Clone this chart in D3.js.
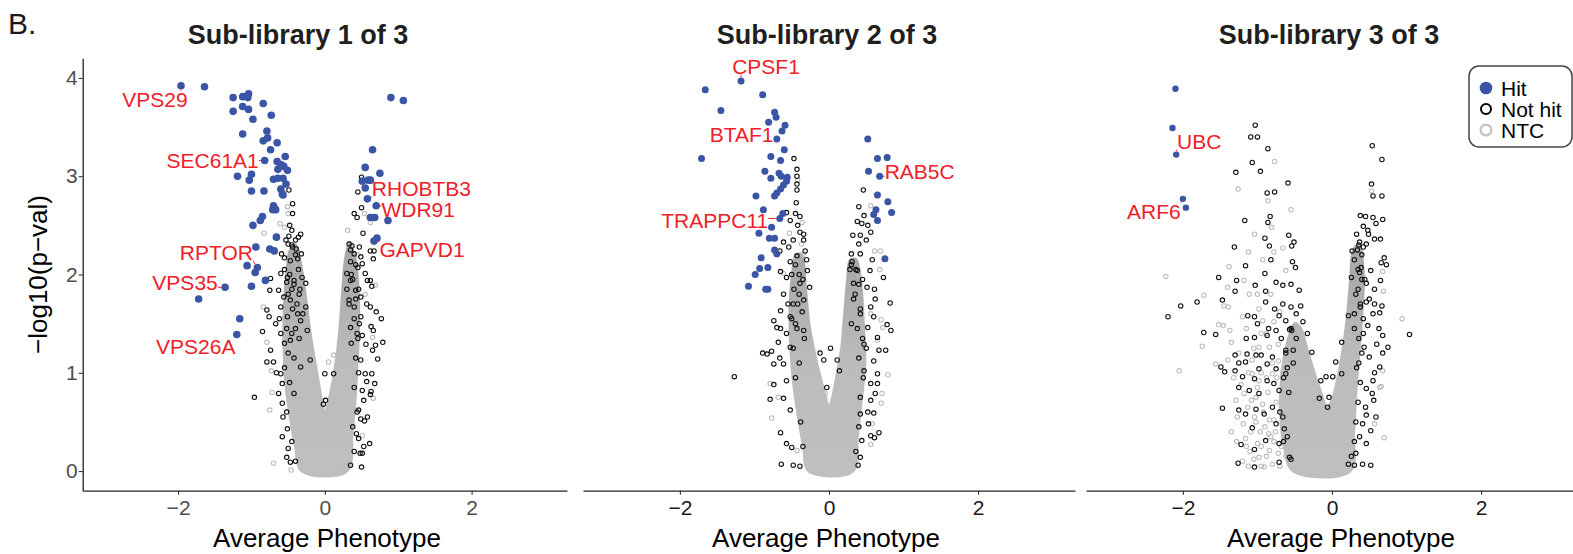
<!DOCTYPE html>
<html>
<head>
<meta charset="utf-8">
<script src="https://cdn.jsdelivr.net/npm/d3@7"></script>
<style>
  body { margin: 0; background: #fff; }
  svg { display: block; font-family: 'Liberation Sans', Arial, sans-serif; }
</style>
</head>
<body>
<svg id="chart" width="1573" height="554"></svg>
<script>
// ---- data ----
const titles = ['Sub-library 1 of 3', 'Sub-library 2 of 3', 'Sub-library 3 of 3']
const xTicks = [-2, 0, 2]
const yTicks = [0, 1, 2, 3, 4]
const legendItems = ['Hit', 'Not hit', 'NTC']

// hits: [average phenotype, -log10 p]
const hits1 = [[-1.96,3.92],[-1.64,3.91],[-1.25,3.80],[-1.12,3.81],[-1.04,3.84],[-1.05,3.80],[-0.84,3.74],
  [-1.25,3.66],[-1.12,3.71],[-1.04,3.68],[-0.73,3.62],[-0.98,3.58],[-1.12,3.43],[-0.79,3.46],[-0.84,3.36],
  [-0.78,3.39],[-0.65,3.34],[-0.74,3.27],[-0.82,3.16],[-0.54,3.20],[-0.65,3.15],[-0.64,3.07],[-0.56,3.10],
  [-0.51,3.06],[-0.60,3.12],[-1.19,3.00],[-1.00,3.02],[-1.03,2.96],[-0.70,2.97],[-0.64,2.98],[-0.57,2.98],
  [-0.53,2.92],[-1.00,2.85],[-0.83,2.85],[-0.60,2.87],[-0.58,2.82],[-0.57,2.81],[-0.70,2.70],[-0.71,2.66],
  [-0.67,2.66],[-0.85,2.59],[-0.88,2.55],[-0.98,2.50],[-0.66,2.38],[-0.94,2.28],[-0.75,2.26],[-0.69,2.24],
  [-1.06,2.09],[-0.92,2.07],[-0.95,2.02],[-0.81,1.94],[-1.00,1.88],[-1.36,1.87],[-1.72,1.75],[-1.16,1.55],
  [-1.20,1.39],
  [0.90,3.80],[1.07,3.77],[0.65,3.27],[0.55,3.09],[0.75,3.03],[0.51,2.95],[0.59,2.96],[0.62,2.96],
  [0.55,2.88],[0.58,2.77],[0.70,2.70],[0.62,2.58],[0.68,2.58],[0.86,2.55],[0.71,2.37],[0.67,2.34]]
const hits2 = [[-1.18,3.97],[-1.66,3.88],[-0.89,3.83],[-1.45,3.67],[-0.73,3.65],[-0.71,3.60],[-0.81,3.55],
  [-0.59,3.52],[-0.63,3.46],[-0.70,3.38],[-0.60,3.27],[-1.71,3.18],[-0.78,3.20],[-0.65,3.16],[-0.86,3.05],
  [-0.78,2.98],[-0.67,3.03],[-0.64,3.00],[-0.56,2.99],[-0.57,2.95],[-0.61,2.91],[-0.65,2.87],[-0.70,2.83],
  [-0.73,2.80],[-0.98,2.80],[-0.88,2.66],[-0.62,2.62],[-0.66,2.57],[-0.77,2.48],[-0.94,2.42],[-0.80,2.37],
  [-0.73,2.37],[-0.73,2.25],[-0.70,2.21],[-0.91,2.17],[-0.93,2.06],[-0.82,2.07],[-0.99,2.00],[-1.08,1.88],
  [-0.85,1.85],[-0.82,1.85],
  [0.52,3.38],[0.65,3.18],[0.78,3.19],[0.53,3.05],[0.68,3.00],[0.65,2.81],[0.79,2.74],[0.84,2.63],
  [0.63,2.66],[0.60,2.61],[0.65,2.55],[0.75,2.16]]
const hits3 = [[-2.10,3.89],[-2.14,3.49],[-2.09,3.22],[-2.00,2.77],[-1.96,2.68]]

const notHit1 = [[-0.49,2.86],[-0.44,2.72],[-0.44,2.62],[-0.48,2.50],[-0.33,2.41],[-0.36,2.38],[-0.49,2.39],
  [-0.53,2.35],[-0.40,2.35],[-0.50,2.31],[-0.44,2.28],[-0.39,2.26],[-0.59,2.21],[-0.55,2.17],[-0.47,2.14],
  [-0.37,2.16],[-0.32,2.21],[-0.74,1.96],[-0.75,1.84],[-0.60,2.01],[-0.51,1.97],[-0.42,1.94],[-0.31,1.97],
  [-0.26,1.91],[-0.63,1.84],[-0.56,1.77],[-0.47,1.74],[-0.38,1.70],[-0.26,1.67],[-0.60,1.67],[-0.79,1.64],
  [-0.76,1.57],[-0.85,1.42],[-0.67,1.50],[-0.51,1.57],[-0.33,1.53],[-0.24,1.43],[-0.60,1.40],[-0.47,1.33],
  [-0.74,1.23],[-0.79,1.11],[-0.70,1.11],[-0.60,0.99],[-0.58,0.89],[-0.63,0.79],[-0.58,0.69],[-0.57,0.55],
  [-0.58,0.35],[-0.51,0.43],[-0.50,0.23],[-0.52,0.14],[-0.47,0.09],[-0.96,0.75],[-0.42,0.79],[-0.33,1.06],
  [-0.20,1.13],[-0.55,2.05],[-0.45,1.85],[-0.35,1.80],[-0.62,1.55],[-0.40,1.45],[-0.55,1.30],[-0.66,1.00],
  [-0.45,2.45],[-0.52,1.92],[-0.30,1.60],
  [-0.45,2.30],[-0.40,2.20],[-0.36,2.05],[-0.48,2.00],[-0.42,1.90],[-0.34,1.85],[-0.50,1.80],[-0.44,1.65],
  [-0.37,1.60],[-0.52,1.45],[-0.45,1.40],[-0.35,1.35],[-0.50,1.20],[-0.42,1.15],[-0.55,1.05],[-0.48,0.90],
  [-0.52,0.60],[-0.45,0.30],[-0.40,0.10],
  [0.50,2.99],[0.45,2.84],[0.50,2.68],[0.40,2.62],[0.44,2.58],[0.52,2.42],[0.62,2.24],[0.67,2.24],
  [0.66,2.16],[0.33,2.31],[0.37,2.29],[0.47,2.28],[0.40,2.21],[0.49,2.18],[0.35,2.13],[0.45,2.07],
  [0.51,2.11],[0.30,2.01],[0.55,2.01],[0.58,1.94],[0.62,1.94],[0.64,1.88],[0.35,1.94],[0.42,1.84],
  [0.49,1.77],[0.57,1.70],[0.33,1.74],[0.40,1.67],[0.62,1.67],[0.70,1.62],[0.77,1.55],[0.49,1.57],
  [0.63,1.47],[0.35,1.46],[0.44,1.40],[0.51,1.38],[0.66,1.43],[0.79,1.31],[0.56,1.29],[0.69,1.28],
  [0.65,1.23],[0.72,1.14],[0.49,1.13],[0.55,0.99],[0.64,0.99],[0.68,0.89],[0.57,0.91],[0.51,0.82],
  [0.63,0.81],[0.62,0.78],[0.53,0.72],[0.46,0.62],[0.49,0.53],[0.58,0.55],[0.54,0.51],[0.43,0.38],
  [0.46,0.33],[0.53,0.25],[0.61,0.28],[0.48,0.18],[0.51,0.18],[0.50,0.04],[0.35,0.06],[0.12,0.99],
  [0.00,0.99],[0.01,0.72],[-0.02,0.68],[0.36,2.00],[0.42,1.75],[0.30,1.85],[0.47,1.50],
  [0.35,2.25],[0.42,2.10],[0.38,1.95],[0.46,1.85],[0.33,1.70],[0.40,1.55],[0.45,1.35],[0.36,1.30],
  [0.42,1.15],[0.46,1.00],[0.40,0.85],[0.44,0.60],[0.38,0.45],[0.40,0.20]]
const ntc1 = [[-0.51,2.69],[-0.50,2.62],[-0.61,2.52],[-0.83,2.42],[-0.55,2.48],[-0.38,2.04],[-0.84,1.67],
  [-0.79,1.31],[-0.73,1.02],[-0.72,0.80],[-0.75,0.62],[-0.70,0.08],[-0.46,0.01],[0.62,2.53],[0.54,2.62],
  [0.69,1.89],[0.65,1.36],[0.66,0.74],[0.05,1.11],[0.12,1.18],[0.31,2.45],[0.35,2.31],[0.51,0.36],
  [0.28,0.01],[-0.42,2.10],[-0.30,1.75],[0.45,2.20],[0.55,1.80]]

const notHit2 = [[-0.47,3.18],[-0.43,3.07],[-0.43,3.00],[-0.43,2.92],[-0.43,2.86],[-0.44,2.73],[-0.57,2.63],
  [-0.45,2.62],[-0.39,2.59],[-0.52,2.55],[-0.42,2.50],[-0.34,2.41],[-0.39,2.43],[-0.48,2.35],[-0.34,2.35],
  [-0.61,2.33],[-0.54,2.28],[-0.32,2.24],[-0.66,2.24],[-0.43,2.19],[-0.52,2.13],[-0.29,2.04],[-0.65,2.03],
  [-0.57,1.97],[-0.39,1.91],[-0.26,1.87],[-0.61,1.80],[-0.48,1.70],[-0.34,1.74],[-0.65,1.63],[-0.52,1.57],
  [-0.74,1.53],[-0.70,1.46],[-0.65,1.45],[-0.34,1.43],[-0.57,1.40],[-0.68,1.31],[-0.52,1.26],[-0.89,1.20],
  [-0.83,1.19],[-0.77,1.22],[-0.66,1.15],[-0.61,1.09],[-0.74,1.09],[-1.27,0.96],[-0.74,0.88],[-0.57,0.92],
  [-0.79,0.73],[-0.61,0.74],[-0.52,0.62],[-0.65,0.39],[-0.57,0.28],[-0.50,0.24],[-0.64,0.07],[-0.48,0.06],
  [-0.39,0.05],[-0.12,1.20],[-0.07,1.13],[0.02,1.25],[-0.03,0.85],[-0.50,2.00],[-0.40,1.80],[-0.30,2.15],
  [-0.55,1.70],[-0.45,1.50],
  [-0.45,2.10],[-0.40,2.00],[-0.35,1.95],[-0.47,1.85],[-0.42,1.70],[-0.36,1.62],[-0.50,1.55],[-0.43,1.45],
  [-0.33,1.35],[-0.48,1.25],[-0.40,1.10],[-0.45,0.95],[-0.38,0.50],[-0.35,0.25],
  [0.46,2.86],[0.40,2.69],[0.38,2.54],[0.47,2.60],[0.44,2.52],[0.52,2.50],[0.32,2.40],[0.42,2.40],
  [0.56,2.43],[0.50,2.35],[0.40,2.31],[0.30,2.21],[0.42,2.21],[0.58,2.15],[0.31,2.13],[0.55,2.04],
  [0.73,1.97],[0.38,2.04],[0.61,1.85],[0.51,1.87],[0.33,1.91],[0.82,1.71],[0.62,1.75],[0.56,1.67],
  [0.42,1.60],[0.60,1.57],[0.78,1.49],[0.83,1.43],[0.52,1.46],[0.65,1.36],[0.47,1.29],[0.67,1.23],
  [0.76,1.23],[0.60,1.12],[0.47,1.02],[0.65,0.99],[0.56,0.89],[0.65,0.89],[0.62,0.79],[0.56,0.72],
  [0.52,0.60],[0.60,0.59],[0.42,0.58],[0.53,0.48],[0.56,0.36],[0.61,0.34],[0.67,0.39],[0.44,0.31],
  [0.42,0.14],[0.39,0.06],[0.11,1.13],[0.14,1.02],[0.35,1.80],[0.45,1.95],[0.28,2.05],[0.50,1.25],
  [0.30,2.10],[0.36,2.05],[0.40,1.90],[0.33,1.75],[0.42,1.65],[0.38,1.45],[0.45,1.35],[0.30,1.50],
  [0.40,1.15],[0.46,0.95],[0.42,0.75],[0.40,0.45],[0.36,0.20]]
const ntc2 = [[-0.42,2.96],[-0.36,2.53],[-0.53,2.42],[-0.45,2.14],[-0.37,2.31],[-0.61,2.01],[-0.77,0.54],
  [-0.79,0.89],[-0.68,0.75],[-0.43,0.21],[0.56,2.70],[0.61,2.24],[0.69,2.24],[0.68,2.05],[0.70,1.54],
  [0.72,1.46],[0.79,0.98],[0.71,0.79],[0.70,0.69],[0.58,0.48],[0.56,0.27],[0.65,1.33],[0.56,1.60],
  [-0.05,0.79],[-0.35,2.20],[0.40,2.00]]

const notHit3 = [[-1.03,3.52],[-1.09,3.40],[-1.00,3.40],[-0.86,3.28],[-1.07,3.14],[-1.29,3.04],[-0.96,3.05],
  [-0.59,2.93],[-0.87,2.83],[-0.77,2.84],[-1.17,2.55],[-0.83,2.59],[-0.86,2.53],[-0.58,2.40],[-0.90,2.37],
  [-0.84,2.29],[-0.51,2.33],[-0.54,2.29],[-1.31,2.28],[-0.82,2.15],[-1.16,2.09],[-0.90,2.01],[-0.53,2.13],
  [-0.49,2.07],[-1.52,1.97],[-1.28,1.94],[-1.03,1.89],[-0.75,1.92],[-0.66,1.89],[-0.44,1.84],[-0.89,1.83],
  [-1.30,1.83],[-1.47,1.74],[-1.81,1.72],[-2.03,1.68],[-2.20,1.57],[-0.89,1.72],[-0.77,1.65],[-0.66,1.70],
  [-0.55,1.67],[-0.42,1.68],[-1.13,1.58],[-1.04,1.57],[-0.71,1.58],[-0.62,1.53],[-1.72,1.41],[-1.56,1.39],
  [-1.00,1.50],[-0.85,1.45],[-0.75,1.43],[-0.57,1.44],[-0.39,1.52],[-1.15,1.35],[-1.04,1.36],[-0.87,1.38],
  [-0.68,1.35],[-0.54,1.43],[-0.33,1.40],[-1.30,1.18],[-1.14,1.19],[-1.02,1.18],[-0.95,1.18],[-0.80,1.16],
  [-0.62,1.23],[-0.52,1.23],[-0.27,1.21],[-1.49,1.06],[-1.44,1.01],[-1.30,1.02],[-1.25,1.10],[-1.16,1.11],
  [-0.98,1.04],[-0.87,1.09],[-0.75,1.04],[-0.62,0.99],[-1.20,0.96],[-1.04,0.94],[-0.87,0.92],[-0.78,0.89],
  [-1.25,0.85],[-1.11,0.82],[-0.98,0.79],[-0.71,0.82],[-1.47,0.64],[-1.25,0.62],[-1.16,0.58],[-1.02,0.63],
  [-0.91,0.58],[-0.80,0.65],[-1.07,0.44],[-0.75,0.48],[-0.64,0.43],[-1.22,0.27],[-1.04,0.22],[-0.89,0.31],
  [-0.71,0.28],[-1.26,0.08],[-1.04,0.04],[-0.71,0.09],[-0.57,0.14],[-0.15,0.92],[-0.08,0.96],[0.01,0.96],
  [0.05,1.11],[0.13,1.31],[-0.17,0.74],[-0.04,0.75],[-0.06,0.65],[-0.60,1.05],[-0.70,0.60],[-0.65,0.30],
  [-0.55,1.90],[-0.48,1.60],
  [-0.55,1.45],[-0.48,1.35],[-0.62,1.20],[-0.52,1.10],[-0.65,0.95],[-0.58,0.80],[-0.66,0.55],[-0.60,0.35],
  [-0.55,0.12],
  [0.54,3.31],[0.67,3.17],[0.53,2.92],[0.55,2.80],[0.67,2.80],[0.68,2.56],[0.38,2.60],[0.45,2.59],
  [0.55,2.58],[0.59,2.52],[0.42,2.49],[0.33,2.41],[0.49,2.41],[0.57,2.36],[0.65,2.36],[0.37,2.33],
  [0.46,2.31],[0.27,2.24],[0.34,2.25],[0.70,2.17],[0.73,2.10],[0.66,2.12],[0.39,2.07],[0.52,2.04],
  [0.37,2.02],[0.26,1.97],[0.65,1.94],[0.46,1.91],[0.57,1.85],[0.46,1.72],[0.57,1.70],[0.67,1.68],
  [0.38,1.67],[0.22,1.58],[0.55,1.60],[0.64,1.61],[0.48,1.48],[0.63,1.45],[1.04,1.39],[0.68,1.38],
  [0.75,1.26],[0.60,1.29],[0.68,1.20],[0.43,1.26],[0.50,1.16],[0.64,1.06],[0.57,1.00],[0.55,0.92],
  [0.46,0.84],[0.54,0.79],[0.56,0.72],[0.45,0.65],[0.59,0.55],[0.46,0.57],[0.41,0.48],[0.52,0.41],
  [0.37,0.35],[0.46,0.28],[0.32,0.18],[0.41,0.07],[0.52,0.06],[0.30,0.06],[0.22,0.07],[0.13,0.99],
  [0.40,2.20],[0.44,1.95],[0.35,1.85],[0.50,1.75],[0.30,1.60],[0.42,1.40],[0.36,1.10],[0.48,2.45],
  [0.30,2.15],[0.35,2.05],[0.40,1.95],[0.32,1.80],[0.38,1.70],[0.42,1.55],[0.30,1.45],[0.36,1.35],
  [0.40,1.20],[0.33,1.05],[0.38,0.90],[0.35,0.70],[0.32,0.50],[0.30,0.30],[0.26,0.15],[0.36,2.30],
  [0.42,2.28]]
const ntc3 = [[-0.77,3.15],[-1.26,2.87],[-0.86,2.75],[-0.55,2.66],[-1.04,2.41],[-0.81,2.48],[-1.12,2.23],
  [-0.78,2.23],[-2.23,1.98],[-1.38,2.08],[-0.93,2.15],[-0.62,2.04],[-0.66,2.27],[-1.72,1.79],[-1.40,1.87],
  [-1.45,1.68],[-1.39,1.67],[-1.18,1.94],[-1.11,1.80],[-1.00,1.80],[-1.74,1.27],[-1.52,1.49],[-1.46,1.48],
  [-1.37,1.43],[-1.35,1.31],[-1.20,1.57],[-0.93,1.53],[-0.78,1.52],[-2.05,1.02],[-1.56,1.09],[-1.40,1.13],
  [-1.07,1.13],[-0.98,1.26],[-0.84,1.26],[-0.72,1.29],[-1.29,0.72],[-1.18,0.79],[-1.27,0.55],[-1.19,0.48],
  [-1.04,0.55],[-0.93,0.68],[-0.84,0.52],[-1.16,0.33],[-1.09,0.40],[-0.96,0.40],[-0.82,0.35],[-0.98,0.14],
  [-0.84,0.21],[-0.91,0.04],[-0.80,0.07],[-0.98,0.92],[-0.80,0.99],[-1.07,0.99],[0.94,1.55],[0.68,2.03],
  [0.69,1.83],[0.70,0.34],[0.66,0.86],[0.68,1.02],[0.53,2.85],[0.64,0.85],[0.57,0.48],
  [-1.10,0.20],[-1.00,0.28],[-0.88,0.15],[-0.76,0.40],[-0.90,0.45],[-1.13,0.65],[-0.86,0.80],[-0.75,0.70],
  [-1.02,0.75],[-0.95,1.00],[-0.72,1.12],[-0.88,1.40],[-0.70,1.62],[-0.66,1.00],[-0.78,0.30],[-0.72,0.18],
  [-1.20,0.10],[-1.15,0.25],[-1.05,0.12],[-0.95,0.25],[-0.85,0.38],[-0.78,0.52],[-0.92,0.60],[-1.08,0.72],
  [-1.22,0.88],[-1.00,0.85],[-0.88,0.95],[-0.80,1.10],[-1.12,1.00],[-0.95,1.40],[-1.05,1.25],[-1.25,1.20],
  [-1.32,0.95],[-1.35,0.40],[-1.28,0.30],[-0.70,0.05],[-0.62,0.15],[-0.74,0.95],[-1.15,1.45],[-0.98,1.65],
  [-0.82,1.80],[-0.60,0.65],[-0.68,0.25],[-1.02,0.50],[-1.12,0.05],[-0.95,0.05]]

// dense centre of each cloud, traced as an outline
const core1 = [[-0.31,0],[-0.40,0.25],[-0.46,0.5],[-0.52,0.8],[-0.55,1.1],[-0.56,1.4],[-0.55,1.7],[-0.52,2.0],
  [-0.47,2.25],[-0.40,2.3],[-0.33,2.1],[-0.27,1.8],[-0.20,1.4],[-0.11,1.0],[-0.04,0.7],[0.0,0.58],[0.05,0.7],
  [0.13,1.0],[0.20,1.4],[0.24,1.8],[0.28,2.15],[0.33,2.3],[0.40,2.2],[0.45,1.9],[0.46,1.5],[0.44,1.1],
  [0.41,0.7],[0.37,0.4],[0.30,0]]
const core2 = [[-0.27,0],[-0.34,0.25],[-0.40,0.5],[-0.46,0.8],[-0.50,1.1],[-0.52,1.4],[-0.52,1.7],[-0.49,2.0],
  [-0.44,2.2],[-0.37,2.2],[-0.32,1.9],[-0.27,1.5],[-0.18,1.15],[-0.10,0.9],[-0.03,0.7],[0.0,0.64],[0.04,0.72],
  [0.10,0.95],[0.17,1.25],[0.21,1.6],[0.25,1.95],[0.29,2.15],[0.36,2.15],[0.42,1.95],[0.46,1.5],[0.48,1.1],
  [0.43,0.7],[0.38,0.35],[0.32,0]]
const core3 = [[-0.52,0],[-0.64,0.25],[-0.69,0.6],[-0.67,1.0],[-0.60,1.3],[-0.50,1.5],[-0.42,1.45],[-0.34,1.25],
  [-0.24,1.0],[-0.15,0.8],[-0.07,0.65],[0.0,0.72],[0.08,0.95],[0.15,1.25],[0.21,1.6],[0.25,1.95],[0.29,2.25],
  [0.36,2.3],[0.42,2.0],[0.40,1.6],[0.36,1.2],[0.32,0.8],[0.29,0.4],[0.24,0]]

// labelled genes: [name, x, y of the hit]
const labels1 = [['VPS29',-1.96,3.92],['SEC61A1',-0.82,3.16],['RHOBTB3',0.58,2.77],['WDR91',0.70,2.70],
  ['GAPVD1',0.67,2.34],['RPTOR',-0.92,2.07],['VPS35',-1.36,1.87],['VPS26A',-1.20,1.39]]
const labels2 = [['CPSF1',-1.18,3.97],['BTAF1',-0.81,3.55],['RAB5C',0.68,3.00],['TRAPPC11',-0.66,2.57]]
const labels3 = [['UBC',-2.09,3.22],['ARF6',-2.00,2.77]]

// where ggrepel put the text, px offset of text centre/baseline from the point
const nudge = {
  VPS29: [-26, 21], SEC61A1: [-52, 7], RHOBTB3: [54, -3], WDR91: [42, 11], GAPVD1: [48, 16],
  RPTOR: [-41, -8], VPS35: [-40, 3], VPS26A: [-41, 20],
  CPSF1: [25, -7], BTAF1: [-27, 20], RAB5C: [40, 3], TRAPPC11: [-65, 10],
  UBC: [23, -6], ARF6: [-29, 20]
}

// ---- layout ----
const dms = {
  width: 1573, height: 554,
  top: 58.3, bottom: 490.7,
  panels: [
    { left: 82.7, right: 567, titleX: 298, xLabelX: 327, r: 3.8, tickColor: '#4d4d4d' },
    { left: 583, right: 1075, titleX: 827, xLabelX: 826, r: 3.5, tickColor: '#1a1a1a' },
    { left: 1086, right: 1578, titleX: 1329, xLabelX: 1341, r: 3.2, tickColor: '#1a1a1a' }
  ]
}
const hitColor = '#3b55a6'
const labelColor = '#f0202a'
const ntcColor = '#bdbdbd'

const svg = d3.select('#chart')

// the arms get darker higher up, where black circles crowd in
const grad = svg.append('defs').append('linearGradient')
  .attr('id', 'coreFill')
  .attr('x1', 0).attr('y1', 1).attr('x2', 0).attr('y2', 0)
grad.append('stop').attr('offset', '0%').attr('stop-color', '#bfbfbf')
grad.append('stop').attr('offset', '50%').attr('stop-color', '#bcbcbc')
grad.append('stop').attr('offset', '100%').attr('stop-color', '#a6a6a6')

const yScale = d3.scaleLinear()
  .domain([-0.2, 4.2])
  .range([dms.bottom, dms.top])

const series = [
  { hits: hits1, notHit: notHit1, ntc: ntc1, core: core1, labels: labels1 },
  { hits: hits2, notHit: notHit2, ntc: ntc2, core: core2, labels: labels2 },
  { hits: hits3, notHit: notHit3, ntc: ntc3, core: core3, labels: labels3 }
]

svg.append('text')
  .attr('x', 8).attr('y', 34)
  .attr('font-size', 30)
  .attr('fill', '#1a1a1a')
  .text('B.')

series.forEach((s, i) => {
  const p = dms.panels[i]
  const xScale = d3.scaleLinear()
    .domain([-3.3, 3.3])
    .range([p.left, p.right])

  const g = svg.append('g')

  // dense centre
  const outline = d3.line()
    .x(d => xScale(d[0]))
    .y(d => yScale(d[1]))
    .curve(d3.curveCatmullRomClosed)
  g.append('path')
    .attr('d', outline(s.core))
    .attr('fill', 'url(#coreFill)')
    .attr('stroke', 'url(#coreFill)')
    .attr('stroke-width', 3)

  g.append('g').selectAll('circle')
    .data(s.ntc)
    .join('circle')
      .attr('cx', d => xScale(d[0]))
      .attr('cy', d => yScale(d[1]))
      .attr('r', 2.2)
      .attr('fill', 'none')
      .attr('stroke', ntcColor)
      .attr('stroke-width', 1.1)

  g.append('g').selectAll('circle')
    .data(s.notHit)
    .join('circle')
      .attr('cx', d => xScale(d[0]))
      .attr('cy', d => yScale(d[1]))
      .attr('r', 2.2)
      .attr('fill', 'none')
      .attr('stroke', '#111')
      .attr('stroke-width', 1.1)

  g.append('g').selectAll('circle')
    .data(s.hits)
    .join('circle')
      .attr('cx', d => xScale(d[0]))
      .attr('cy', d => yScale(d[1]))
      .attr('r', p.r)
      .attr('fill', hitColor)

  // gene labels with short leader segments
  s.labels.forEach(([gene, x, y]) => {
    const px = xScale(x), py = yScale(y)
    const [dx, dy] = nudge[gene]
    const t = g.append('text')
      .attr('x', px + dx).attr('y', py + dy)
      .attr('text-anchor', 'middle')
      .attr('font-size', 21)
      .attr('fill', labelColor)
      .text(gene)
    const b = t.node().getBBox()
    const cx = Math.max(b.x, Math.min(px, b.x + b.width))
    const cy = Math.max(b.y + 3, Math.min(py, b.y + b.height - 3))
    const len = Math.hypot(cx - px, cy - py)
    if (len > p.r + 1) {
      g.append('line')
        .attr('x1', px + (cx - px) * p.r / len).attr('y1', py + (cy - py) * p.r / len)
        .attr('x2', cx).attr('y2', cy)
        .attr('stroke', labelColor)
        .attr('stroke-width', 1)
    }
  })

  // axes
  const xAxis = g.append('g')
    .attr('transform', `translate(0, ${dms.bottom})`)
    .call(d3.axisBottom(xScale).tickValues(xTicks).tickFormat(d3.format('d'))
      .tickSize(4).tickPadding(5).tickSizeOuter(0))
  xAxis.attr('font-family', null).attr('font-size', null)
  xAxis.select('.domain').attr('stroke', '#222').attr('stroke-width', 1.3)
  xAxis.selectAll('.tick line').attr('stroke', '#333').attr('stroke-width', 1.1)
  xAxis.selectAll('.tick text').attr('font-size', 21).attr('fill', p.tickColor)

  g.append('text')
    .attr('x', p.xLabelX)
    .attr('y', 547)
    .attr('text-anchor', 'middle')
    .attr('font-size', 26)
    .attr('fill', '#000')
    .text('Average Phenotype')

  g.append('text')
    .attr('x', p.titleX).attr('y', 44)
    .attr('text-anchor', 'middle')
    .attr('font-size', 27)
    .attr('font-weight', 'bold')
    .attr('fill', '#1f1f1f')
    .text(titles[i])

  if (i === 0) {
    const yAxis = g.append('g')
      .attr('transform', `translate(${p.left}, 0)`)
      .call(d3.axisLeft(yScale).tickValues(yTicks).tickFormat(d3.format('d'))
        .tickSize(4).tickPadding(1).tickSizeOuter(0))
    yAxis.attr('font-family', null).attr('font-size', null)
    yAxis.select('.domain').attr('stroke', '#222').attr('stroke-width', 1.3)
    yAxis.selectAll('.tick line').attr('stroke', '#333').attr('stroke-width', 1.1)
    yAxis.selectAll('.tick text').attr('font-size', 21).attr('fill', p.tickColor)

    g.append('text')
      .attr('transform', `translate(47, ${(dms.top + dms.bottom) / 2}) rotate(-90)`)
      .attr('text-anchor', 'middle')
      .attr('font-size', 26)
      .attr('fill', '#000')
      .text('\u2212log10(p\u2212val)')
  }
})

// legend
const legend = svg.append('g').attr('transform', 'translate(1469, 66)')
legend.append('rect')
  .attr('width', 103).attr('height', 81)
  .attr('rx', 10)
  .attr('fill', '#fff')
  .attr('stroke', '#444')
  .attr('stroke-width', 1.5)
const legendRows = legend.selectAll('g.item')
  .data(legendItems)
  .join('g')
    .attr('class', 'item')
    .attr('transform', (d, i) => `translate(17, ${22 + i * 21})`)
legendRows.append('circle')
  .attr('r', (d, i) => [6.3, 5, 5.3][i])
  .attr('fill', (d, i) => i === 0 ? hitColor : 'none')
  .attr('stroke', (d, i) => [null, '#000', '#c4c4c4'][i])
  .attr('stroke-width', (d, i) => [0, 2, 2.5][i])
legendRows.append('text')
  .attr('x', 15).attr('y', 7.5)
  .attr('font-size', 21)
  .attr('fill', '#000')
  .text(d => d)
</script>
</body>
</html>
